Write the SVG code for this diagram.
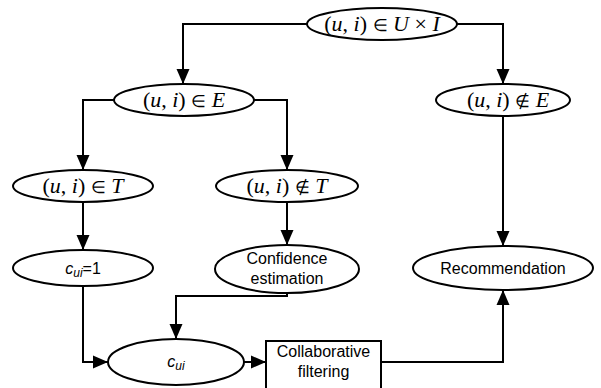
<svg xmlns="http://www.w3.org/2000/svg" width="601" height="388" viewBox="0 0 601 388">
<defs>
<marker id="ah" markerUnits="userSpaceOnUse" markerWidth="16" markerHeight="16" viewBox="0 0 16 16" refX="15" refY="8" orient="auto">
<path d="M0,1.5 L15,8 L0,14.5 Z" fill="#000"/>
</marker>
</defs>
<style>
.n{fill:#fff;stroke:#000;stroke-width:2}
.c{fill:none;stroke:#000;stroke-width:2}
.m{font-family:"Liberation Serif",serif;font-size:22px;text-anchor:middle}
.mi{font-style:italic}
.op{font-size:17px}
.t{font-family:"Liberation Sans",Arial,sans-serif;font-size:16px;text-anchor:middle}
</style>
<rect width="601" height="388" fill="#fff"/>
<g id="connectors">
<path class="c" d="M307,24 H183 V84" marker-end="url(#ah)"/>
<path class="c" d="M457,24 H503 V84" marker-end="url(#ah)"/>
<path class="c" d="M114,100 H83 V170" marker-end="url(#ah)"/>
<path class="c" d="M254,100 H287 V170" marker-end="url(#ah)"/>
<path class="c" d="M83,202 V250" marker-end="url(#ah)"/>
<path class="c" d="M287,202 V245" marker-end="url(#ah)"/>
<path class="c" d="M503,116 V246" marker-end="url(#ah)"/>
<path class="c" d="M83,286 V362 H108" marker-end="url(#ah)"/>
<path class="c" d="M287,293 V296 H176 V339" marker-end="url(#ah)"/>
<path class="c" d="M244,362 H266" marker-end="url(#ah)"/>
<path class="c" d="M381,362 H503 V290" marker-end="url(#ah)"/>
</g>
<g id="n_UI">
<ellipse class="n" cx="382" cy="24" rx="75" ry="16"/>
<text class="m" x="382" y="31">(<tspan class="mi">u</tspan>, <tspan class="mi">i</tspan>) <tspan class="op">∈</tspan> <tspan class="mi">U</tspan> × <tspan class="mi">I</tspan></text>
</g>
<g id="n_E">
<ellipse class="n" cx="184" cy="100" rx="70" ry="16"/>
<text class="m" x="184" y="107">(<tspan class="mi">u</tspan>, <tspan class="mi">i</tspan>) <tspan class="op">∈</tspan> <tspan class="mi">E</tspan></text>
</g>
<g id="n_notE">
<ellipse class="n" cx="503" cy="100" rx="67" ry="16"/>
<text class="m" x="508" y="107">(<tspan class="mi">u</tspan>, <tspan class="mi">i</tspan>) <tspan class="op">∉</tspan> <tspan class="mi">E</tspan></text>
</g>
<g id="n_T">
<ellipse class="n" cx="83" cy="186" rx="70" ry="16"/>
<text class="m" x="83" y="193">(<tspan class="mi">u</tspan>, <tspan class="mi">i</tspan>) <tspan class="op">∈</tspan> <tspan class="mi">T</tspan></text>
</g>
<g id="n_notT">
<ellipse class="n" cx="287" cy="186" rx="71" ry="16"/>
<text class="m" x="287" y="193">(<tspan class="mi">u</tspan>, <tspan class="mi">i</tspan>) <tspan class="op">∉</tspan> <tspan class="mi">T</tspan></text>
</g>
<g id="n_cui1">
<ellipse class="n" cx="83" cy="268" rx="70" ry="18"/>
<text class="t" x="83" y="274"><tspan font-style="italic">c</tspan><tspan font-style="italic" font-size="12px" dy="3">ui</tspan><tspan dy="-3">=1</tspan></text>
</g>
<g id="n_conf">
<ellipse class="n" cx="287" cy="269" rx="72" ry="24"/>
<text class="t" x="287" y="264">Confidence</text>
<text class="t" x="287" y="284">estimation</text>
</g>
<g id="n_rec">
<ellipse class="n" cx="503" cy="268" rx="90" ry="22"/>
<text class="t" x="503" y="274">Recommendation</text>
</g>
<g id="n_cui">
<ellipse class="n" cx="176" cy="362" rx="68" ry="23"/>
<text class="t" x="176" y="367"><tspan font-style="italic">c</tspan><tspan font-style="italic" font-size="12px" dy="3">ui</tspan></text>
</g>
<g id="n_cf">
<rect class="n" x="266" y="341" width="115" height="52"/>
<text class="t" x="323.5" y="357">Collaborative</text>
<text class="t" x="323.5" y="377">filtering</text>
</g>
</svg>
